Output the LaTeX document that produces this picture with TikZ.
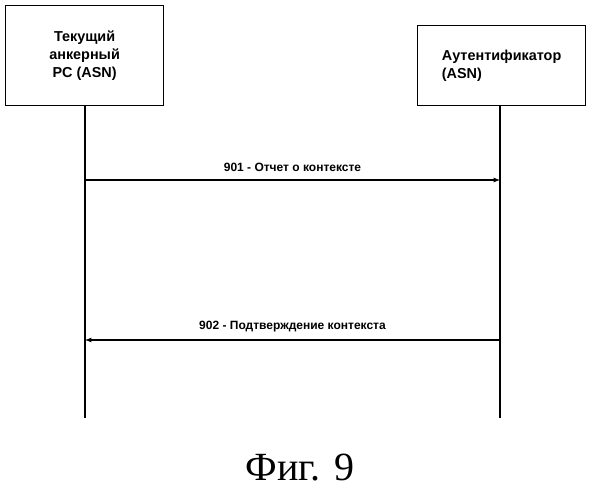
\documentclass[tikz,border=0pt]{standalone}
\usepackage{fontspec}
\setmainfont{Liberation Serif}
\newfontfamily\labelfont{Liberation Sans}
\usetikzlibrary{positioning}
\tikzstyle{party}=[draw, very thick, align=left, font=\labelfont\Large, inner sep=3pt]
\tikzstyle{life}=[very thick]
\tikzstyle{msg}=[-latex, very thick, >=latex, line width=1.2pt]

\begin{document}
\begin{tikzpicture}[x=1pt, y=-1pt]
    \useasboundingbox (0,0) rectangle (600,500);
    \node[party, minimum width=158, minimum height=100, anchor=north west, align=center] (anchor) at (5,5) {\textbf{Текущий}\\\textbf{анкерный}\\\textbf{PC (ASN)}};
    \node[party, minimum width=168, minimum height=80, anchor=north west] (auth) at (417,25) {\textbf{Аутентификатор}\\\textbf{(ASN)}};
    \coordinate (anchorend) at (85,418);
    \coordinate (authend) at (500,418);
    \draw[life] (85,105) -- (anchorend);
    \draw[life] (500,105) -- (authend);

    \draw[msg] (85,180) -- node[above=4pt, font=\labelfont\large\bfseries] {901 - Отчет о контексте} (500,180);
    \draw[msg] (500,340) -- node[above=4pt, font=\labelfont\large\bfseries] {902 - Подтверждение контекста} (85,340);

    \node[font=\fontsize{40}{44}\selectfont] (caption) at (300,468) {Фиг. 9};
\end{tikzpicture}
\end{document}
